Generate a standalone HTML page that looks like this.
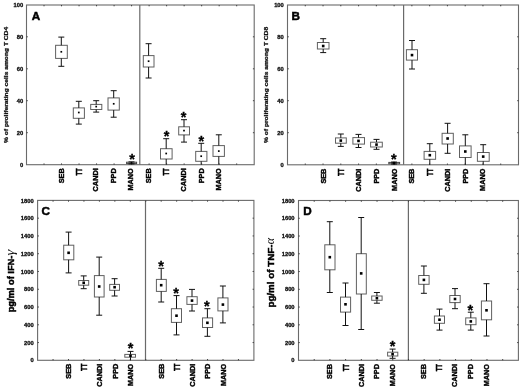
<!DOCTYPE html>
<html lang="en">
<head>
<meta charset="utf-8">
<title>Box plots: proliferating T cells and cytokine production</title>
<style>
html,body{margin:0;padding:0;background:#fff;}
body{width:520px;height:390px;overflow:hidden;font-family:"Liberation Sans",Arial,sans-serif;}
svg{display:block;}
</style>
</head>
<body>
<svg width="520" height="390" viewBox="0 0 520 390" font-family="'Liberation Sans', Arial, sans-serif">
<rect width="520" height="390" fill="#fff"/>
<g id="panel-A">
<rect x="26.5" y="5" width="227.7" height="159.7" fill="none" stroke="#6a6a6a" stroke-width="1.1"/>
<line x1="139.8" y1="5" x2="139.8" y2="164.7" stroke="#6a6a6a" stroke-width="1.2"/>
<path d="M44.02 5v1.3M44.02 164.7v-1.3M61.53 5v1.3M61.53 164.7v-1.3M79.05 5v1.3M79.05 164.7v-1.3M96.56 5v1.3M96.56 164.7v-1.3M114.08 5v1.3M114.08 164.7v-1.3M131.59 5v1.3M131.59 164.7v-1.3M149.11 5v1.3M149.11 164.7v-1.3M166.62 5v1.3M166.62 164.7v-1.3M184.14 5v1.3M184.14 164.7v-1.3M201.65 5v1.3M201.65 164.7v-1.3M219.17 5v1.3M219.17 164.7v-1.3M236.68 5v1.3M236.68 164.7v-1.3M26.5 36.8h1.3M254.2 36.8h-1.3M26.5 68.8h1.3M254.2 68.8h-1.3M26.5 100.7h1.3M254.2 100.7h-1.3M26.5 132.7h1.3M254.2 132.7h-1.3" stroke="#333" stroke-width="0.9" fill="none"/>
<g font-size="5.8" font-weight="bold" fill="#111" text-anchor="end" stroke="#111" stroke-width="0.3">
<text x="23.2" y="7.1">100</text>
<text x="23.2" y="38.9">80</text>
<text x="23.2" y="70.9">60</text>
<text x="23.2" y="102.8">40</text>
<text x="23.2" y="134.8">20</text>
<text x="23.2" y="166.7">0</text>
</g>
<text x="31.7" y="19.9" font-size="11.7" font-weight="bold" fill="#000" stroke="#000" stroke-width="0.5">A</text>
<text transform="translate(7.6 143) rotate(-90) scale(1.39 1)" font-size="4.8" font-weight="bold" fill="#111" stroke="#111" stroke-width="0.25">% of proliferating cells among T CD4</text>
<g font-size="7.3" font-weight="bold" fill="#000" text-anchor="end" stroke="#000" stroke-width="0.4">
<text transform="translate(63.6 168.3) rotate(-90)">SEB</text>
<text transform="translate(81.6 168.3) rotate(-90) scale(0.67 1)" font-size="8.9" stroke="#000" stroke-width="0.5">TT</text>
<text transform="translate(98.3 168.3) rotate(-90)">CANDI</text>
<text transform="translate(116.1 168.3) rotate(-90)">PPD</text>
<text transform="translate(133.4 168.3) rotate(-90)">MANO</text>
<text transform="translate(151.1 168.3) rotate(-90)">SEB</text>
<text transform="translate(168.9 168.3) rotate(-90) scale(0.67 1)" font-size="8.9" stroke="#000" stroke-width="0.5">TT</text>
<text transform="translate(186.2 168.3) rotate(-90)">CANDI</text>
<text transform="translate(203.6 168.3) rotate(-90)">PPD</text>
<text transform="translate(221 168.3) rotate(-90)">MANO</text>
</g>
<rect x="55.6" y="45.3" width="11.7" height="13.1" fill="#fff" stroke="#606060" stroke-width="1"/>
<path d="M61.3 37.1V45.3M61.3 58.4V66.3M58.3 37.1h6M58.3 66.3h6" stroke="#111" stroke-width="1" fill="none"/>
<rect x="60.45" y="50.95" width="1.7" height="1.7" fill="#000"/>
<rect x="73.3" y="107.9" width="11.1" height="10.4" fill="#fff" stroke="#606060" stroke-width="1"/>
<path d="M78.8 101.3V107.9M78.8 118.3V124.1M75.8 101.3h6M75.8 124.1h6" stroke="#111" stroke-width="1" fill="none"/>
<rect x="77.95" y="111.65" width="1.7" height="1.7" fill="#000"/>
<rect x="90.7" y="104.4" width="11.1" height="5.1" fill="#fff" stroke="#606060" stroke-width="1"/>
<path d="M96.2 100.7V104.4M96.2 109.5V112.1M93.2 100.7h6M93.2 112.1h6" stroke="#111" stroke-width="1" fill="none"/>
<rect x="95.35" y="105.75" width="1.7" height="1.7" fill="#000"/>
<rect x="108" y="97.9" width="11.3" height="12.2" fill="#fff" stroke="#606060" stroke-width="1"/>
<path d="M113.7 90.7V97.9M113.7 110.1V117.2M110.7 90.7h6M110.7 117.2h6" stroke="#111" stroke-width="1" fill="none"/>
<rect x="112.85" y="102.95" width="1.7" height="1.7" fill="#000"/>
<rect x="126.6" y="162.2" width="10" height="1.4" fill="#fff" stroke="#444" stroke-width="1"/>
<path d="M131.5 161.9V162.2M131.5 163.6V163.9M128.5 161.9h6M128.5 163.9h6" stroke="#111" stroke-width="1" fill="none"/>
<rect x="130.65" y="162.05" width="1.7" height="1.7" fill="#000"/>
<text x="132.2" y="163.5" font-size="14.5" font-weight="bold" text-anchor="middle" fill="#000" stroke="#000" stroke-width="0.3">*</text>
<rect x="143.3" y="55.6" width="10.7" height="11.4" fill="#fff" stroke="#606060" stroke-width="1"/>
<path d="M148.6 43.7V55.6M148.6 67V78M145.6 43.7h6M145.6 78h6" stroke="#111" stroke-width="1" fill="none"/>
<rect x="147.75" y="60.35" width="1.7" height="1.7" fill="#000"/>
<rect x="160.5" y="148.7" width="11.6" height="10.3" fill="#fff" stroke="#606060" stroke-width="1"/>
<path d="M166.2 138.7V148.7M166.2 159V164.5M163.2 138.7h6" stroke="#111" stroke-width="1" fill="none"/>
<rect x="165.35" y="152.65" width="1.7" height="1.7" fill="#000"/>
<text x="166.6" y="141.3" font-size="14.5" font-weight="bold" text-anchor="middle" fill="#000" stroke="#000" stroke-width="0.3">*</text>
<rect x="178.7" y="126.8" width="10.8" height="8.1" fill="#fff" stroke="#606060" stroke-width="1"/>
<path d="M184 119.7V126.8M184 134.9V142.1M181 119.7h6M181 142.1h6" stroke="#111" stroke-width="1" fill="none"/>
<rect x="183.15" y="129.75" width="1.7" height="1.7" fill="#000"/>
<text x="183.6" y="122.1" font-size="14.5" font-weight="bold" text-anchor="middle" fill="#000" stroke="#000" stroke-width="0.3">*</text>
<rect x="195.7" y="151.4" width="11.2" height="9.9" fill="#fff" stroke="#606060" stroke-width="1"/>
<path d="M201.2 143.3V151.4M201.2 161.3V164.5M198.2 143.3h6" stroke="#111" stroke-width="1" fill="none"/>
<rect x="200.35" y="155.35" width="1.7" height="1.7" fill="#000"/>
<text x="201.4" y="145.5" font-size="14.5" font-weight="bold" text-anchor="middle" fill="#000" stroke="#000" stroke-width="0.3">*</text>
<rect x="213" y="145.6" width="11.4" height="10.8" fill="#fff" stroke="#606060" stroke-width="1"/>
<path d="M218.8 134.8V145.6M218.8 156.4V164.5M215.8 134.8h6" stroke="#111" stroke-width="1" fill="none"/>
<rect x="217.95" y="150.25" width="1.7" height="1.7" fill="#000"/>
</g>
<g id="panel-B">
<rect x="287.5" y="5" width="231" height="159.8" fill="none" stroke="#6a6a6a" stroke-width="1.1"/>
<line x1="403.6" y1="5" x2="403.6" y2="164.8" stroke="#6a6a6a" stroke-width="1.2"/>
<path d="M305.27 5v1.3M305.27 164.8v-1.3M323.04 5v1.3M323.04 164.8v-1.3M340.81 5v1.3M340.81 164.8v-1.3M358.58 5v1.3M358.58 164.8v-1.3M376.35 5v1.3M376.35 164.8v-1.3M394.12 5v1.3M394.12 164.8v-1.3M411.88 5v1.3M411.88 164.8v-1.3M429.65 5v1.3M429.65 164.8v-1.3M447.42 5v1.3M447.42 164.8v-1.3M465.19 5v1.3M465.19 164.8v-1.3M482.96 5v1.3M482.96 164.8v-1.3M500.73 5v1.3M500.73 164.8v-1.3M287.5 36.8h1.3M518.5 36.8h-1.3M287.5 68.8h1.3M518.5 68.8h-1.3M287.5 100.7h1.3M518.5 100.7h-1.3M287.5 132.7h1.3M518.5 132.7h-1.3" stroke="#333" stroke-width="0.9" fill="none"/>
<g font-size="5.8" font-weight="bold" fill="#111" text-anchor="end" stroke="#111" stroke-width="0.3">
<text x="283.8" y="7.1">100</text>
<text x="283.8" y="38.9">80</text>
<text x="283.8" y="70.9">60</text>
<text x="283.8" y="102.8">40</text>
<text x="283.8" y="134.8">20</text>
<text x="283.8" y="166.7">0</text>
</g>
<text x="291.6" y="19.8" font-size="11.7" font-weight="bold" fill="#000" stroke="#000" stroke-width="0.5">B</text>
<text transform="translate(267.5 143) rotate(-90) scale(1.39 1)" font-size="4.8" font-weight="bold" fill="#111" stroke="#111" stroke-width="0.25">% of proliferating cells among T CD8</text>
<g font-size="7.3" font-weight="bold" fill="#000" text-anchor="end" stroke="#000" stroke-width="0.4">
<text transform="translate(325.6 168.6) rotate(-90)">SEB</text>
<text transform="translate(344 168.6) rotate(-90) scale(0.67 1)" font-size="8.9" stroke="#000" stroke-width="0.5">TT</text>
<text transform="translate(361 168.6) rotate(-90)">CANDI</text>
<text transform="translate(378.8 168.6) rotate(-90)">PPD</text>
<text transform="translate(396.6 168.6) rotate(-90)">MANO</text>
<text transform="translate(414.4 168.6) rotate(-90)">SEB</text>
<text transform="translate(432.8 168.6) rotate(-90) scale(0.67 1)" font-size="8.9" stroke="#000" stroke-width="0.5">TT</text>
<text transform="translate(450 168.6) rotate(-90)">CANDI</text>
<text transform="translate(467.8 168.6) rotate(-90)">PPD</text>
<text transform="translate(485.4 168.6) rotate(-90)">MANO</text>
</g>
<rect x="317.4" y="42.5" width="11.6" height="6.5" fill="#fff" stroke="#606060" stroke-width="1"/>
<path d="M323.2 38.7V42.5M323.2 49V52.6M320.2 38.7h6M320.2 52.6h6" stroke="#111" stroke-width="1" fill="none"/>
<rect x="321.9" y="44.7" width="2.6" height="2.6" fill="#000"/>
<rect x="335.5" y="137.9" width="10.8" height="5.3" fill="#fff" stroke="#606060" stroke-width="1"/>
<path d="M340.8 134V137.9M340.8 143.2V146.4M337.8 134h6M337.8 146.4h6" stroke="#111" stroke-width="1" fill="none"/>
<rect x="339.5" y="139.3" width="2.6" height="2.6" fill="#000"/>
<rect x="352.9" y="137.6" width="11.6" height="6.5" fill="#fff" stroke="#606060" stroke-width="1"/>
<path d="M358.5 134.4V137.6M358.5 144.1V147.5M355.5 134.4h6M355.5 147.5h6" stroke="#111" stroke-width="1" fill="none"/>
<rect x="357.2" y="139.6" width="2.6" height="2.6" fill="#000"/>
<rect x="370.6" y="142.2" width="11.7" height="4.8" fill="#fff" stroke="#606060" stroke-width="1"/>
<path d="M376.5 139.4V142.2M376.5 147V149.3M373.5 139.4h6M373.5 149.3h6" stroke="#111" stroke-width="1" fill="none"/>
<rect x="375.2" y="143.3" width="2.6" height="2.6" fill="#000"/>
<rect x="388.8" y="162.4" width="10.8" height="1.4" fill="#fff" stroke="#444" stroke-width="1"/>
<path d="M394 162.1V162.4M394 163.8V164M391 162.1h6M391 164h6" stroke="#111" stroke-width="1" fill="none"/>
<rect x="392.7" y="161.8" width="2.6" height="2.6" fill="#000"/>
<text x="393.8" y="163.9" font-size="14.5" font-weight="bold" text-anchor="middle" fill="#000" stroke="#000" stroke-width="0.3">*</text>
<rect x="406.4" y="49.7" width="11.1" height="10.4" fill="#fff" stroke="#606060" stroke-width="1"/>
<path d="M412 40.5V49.7M412 60.1V69M409 40.5h6M409 69h6" stroke="#111" stroke-width="1" fill="none"/>
<rect x="410.7" y="53.8" width="2.6" height="2.6" fill="#000"/>
<rect x="424.1" y="151.4" width="11.5" height="7.9" fill="#fff" stroke="#606060" stroke-width="1"/>
<path d="M429.8 143.7V151.4M429.8 159.3V164.8M426.8 143.7h6" stroke="#111" stroke-width="1" fill="none"/>
<rect x="428.5" y="153.9" width="2.6" height="2.6" fill="#000"/>
<rect x="442.1" y="133.3" width="11.2" height="10.7" fill="#fff" stroke="#606060" stroke-width="1"/>
<path d="M447.6 123.3V133.3M447.6 144V153.3M444.6 123.3h6M444.6 153.3h6" stroke="#111" stroke-width="1" fill="none"/>
<rect x="446.3" y="137.2" width="2.6" height="2.6" fill="#000"/>
<rect x="459.5" y="145.9" width="11.6" height="11.6" fill="#fff" stroke="#606060" stroke-width="1"/>
<path d="M465.3 134.8V145.9M465.3 157.5V164.8M462.3 134.8h6" stroke="#111" stroke-width="1" fill="none"/>
<rect x="464" y="150.2" width="2.6" height="2.6" fill="#000"/>
<rect x="477.4" y="152.5" width="11.8" height="8.8" fill="#fff" stroke="#606060" stroke-width="1"/>
<path d="M483.2 144.7V152.5M483.2 161.3V164.8M480.2 144.7h6" stroke="#111" stroke-width="1" fill="none"/>
<rect x="481.9" y="155.3" width="2.6" height="2.6" fill="#000"/>
</g>
<g id="panel-C">
<rect x="37.6" y="200.4" width="216.3" height="159.9" fill="none" stroke="#6a6a6a" stroke-width="1.1"/>
<line x1="145.5" y1="200.4" x2="145.5" y2="360.3" stroke="#6a6a6a" stroke-width="1.2"/>
<path d="M53.05 200.4v1.3M53.05 360.3v-1.3M68.5 200.4v1.3M68.5 360.3v-1.3M83.95 200.4v1.3M83.95 360.3v-1.3M99.4 200.4v1.3M99.4 360.3v-1.3M114.85 200.4v1.3M114.85 360.3v-1.3M130.3 200.4v1.3M130.3 360.3v-1.3M145.75 200.4v1.3M145.75 360.3v-1.3M161.2 200.4v1.3M161.2 360.3v-1.3M176.65 200.4v1.3M176.65 360.3v-1.3M192.1 200.4v1.3M192.1 360.3v-1.3M207.55 200.4v1.3M207.55 360.3v-1.3M223 200.4v1.3M223 360.3v-1.3M238.45 200.4v1.3M238.45 360.3v-1.3M37.6 218.17h1.3M253.9 218.17h-1.3M37.6 235.94h1.3M253.9 235.94h-1.3M37.6 253.71h1.3M253.9 253.71h-1.3M37.6 271.48h1.3M253.9 271.48h-1.3M37.6 289.25h1.3M253.9 289.25h-1.3M37.6 307.02h1.3M253.9 307.02h-1.3M37.6 324.79h1.3M253.9 324.79h-1.3M37.6 342.56h1.3M253.9 342.56h-1.3" stroke="#333" stroke-width="0.9" fill="none"/>
<g font-size="5.8" font-weight="bold" fill="#111" text-anchor="end" stroke="#111" stroke-width="0.3">
<text x="33.7" y="202.5">1800</text>
<text x="33.7" y="220.27">1600</text>
<text x="33.7" y="238.04">1400</text>
<text x="33.7" y="255.81">1200</text>
<text x="33.7" y="273.58">1000</text>
<text x="33.7" y="291.35">800</text>
<text x="33.7" y="309.12">600</text>
<text x="33.7" y="326.89">400</text>
<text x="33.7" y="344.66">200</text>
<text x="33.7" y="362.43">0</text>
</g>
<text x="41.5" y="215.1" font-size="11.7" font-weight="bold" fill="#000" stroke="#000" stroke-width="0.5">C</text>
<text transform="translate(13.8 312.3) rotate(-90) scale(1.055 1)" font-size="8.8" font-weight="bold" fill="#000" stroke="#000" stroke-width="0.45">pg/ml of IFN-</text>
<text transform="translate(13.8 255.38) rotate(-90) scale(1.2 1)" font-family="'Liberation Serif', 'DejaVu Serif', serif" font-style="italic" font-size="12.3" fill="#111">γ</text>
<g font-size="7.3" font-weight="bold" fill="#000" text-anchor="end" stroke="#000" stroke-width="0.4">
<text transform="translate(71 363.7) rotate(-90)">SEB</text>
<text transform="translate(87 363.7) rotate(-90) scale(0.67 1)" font-size="8.9" stroke="#000" stroke-width="0.5">TT</text>
<text transform="translate(102 363.7) rotate(-90)">CANDI</text>
<text transform="translate(117.5 363.7) rotate(-90)">PPD</text>
<text transform="translate(133 363.7) rotate(-90)">MANO</text>
<text transform="translate(163.8 363.7) rotate(-90)">SEB</text>
<text transform="translate(179.8 363.7) rotate(-90) scale(0.67 1)" font-size="8.9" stroke="#000" stroke-width="0.5">TT</text>
<text transform="translate(194.7 363.7) rotate(-90)">CANDI</text>
<text transform="translate(210.1 363.7) rotate(-90)">PPD</text>
<text transform="translate(225.6 363.7) rotate(-90)">MANO</text>
</g>
<rect x="63.7" y="245.2" width="10.1" height="14.6" fill="#fff" stroke="#606060" stroke-width="1"/>
<path d="M68.6 232.1V245.2M68.6 259.8V272.9M65.6 232.1h6M65.6 272.9h6" stroke="#111" stroke-width="1" fill="none"/>
<rect x="67.3" y="251.5" width="2.6" height="2.6" fill="#000"/>
<rect x="78.7" y="280.5" width="10" height="4.7" fill="#fff" stroke="#606060" stroke-width="1"/>
<path d="M83.7 275.9V280.5M83.7 285.2V288.7M80.7 275.9h6M80.7 288.7h6" stroke="#111" stroke-width="1" fill="none"/>
<rect x="82.4" y="281.5" width="2.6" height="2.6" fill="#000"/>
<rect x="94.4" y="275.6" width="9.7" height="21.4" fill="#fff" stroke="#606060" stroke-width="1"/>
<path d="M99.2 257.1V275.6M99.2 297V315.2M96.2 257.1h6M96.2 315.2h6" stroke="#111" stroke-width="1" fill="none"/>
<rect x="97.9" y="285.2" width="2.6" height="2.6" fill="#000"/>
<rect x="109.7" y="284.4" width="9.8" height="5.9" fill="#fff" stroke="#606060" stroke-width="1"/>
<path d="M114.6 278.7V284.4M114.6 290.3V296M111.6 278.7h6M111.6 296h6" stroke="#111" stroke-width="1" fill="none"/>
<rect x="113.3" y="285.9" width="2.6" height="2.6" fill="#000"/>
<rect x="124.8" y="354.4" width="10.7" height="2.8" fill="#fff" stroke="#606060" stroke-width="1"/>
<path d="M130.5 351.4V354.4M130.5 357.2V360.3M127.5 351.4h6" stroke="#111" stroke-width="1" fill="none"/>
<rect x="129.2" y="354.5" width="2.6" height="2.6" fill="#000"/>
<text x="130.5" y="353.2" font-size="14.5" font-weight="bold" text-anchor="middle" fill="#000" stroke="#000" stroke-width="0.3">*</text>
<rect x="156.4" y="279.4" width="9.9" height="12" fill="#fff" stroke="#606060" stroke-width="1"/>
<path d="M161.2 268.3V279.4M161.2 291.4V302M158.2 268.3h6M158.2 302h6" stroke="#111" stroke-width="1" fill="none"/>
<rect x="159.9" y="283.9" width="2.6" height="2.6" fill="#000"/>
<text x="161.2" y="270.5" font-size="14.5" font-weight="bold" text-anchor="middle" fill="#000" stroke="#000" stroke-width="0.3">*</text>
<rect x="171.4" y="308.7" width="10.1" height="13.7" fill="#fff" stroke="#606060" stroke-width="1"/>
<path d="M176.5 295.6V308.7M176.5 322.4V334.9M173.5 295.6h6M173.5 334.9h6" stroke="#111" stroke-width="1" fill="none"/>
<rect x="175.2" y="314.4" width="2.6" height="2.6" fill="#000"/>
<text x="176.2" y="298.2" font-size="14.5" font-weight="bold" text-anchor="middle" fill="#000" stroke="#000" stroke-width="0.3">*</text>
<rect x="186.9" y="296.7" width="10.3" height="7.7" fill="#fff" stroke="#606060" stroke-width="1"/>
<path d="M192 289.4V296.7M192 304.4V311M189 289.4h6M189 311h6" stroke="#111" stroke-width="1" fill="none"/>
<rect x="190.7" y="299.3" width="2.6" height="2.6" fill="#000"/>
<rect x="202.5" y="317.9" width="10.1" height="9.6" fill="#fff" stroke="#606060" stroke-width="1"/>
<path d="M207.4 308.7V317.9M207.4 327.5V336.3M204.4 308.7h6M204.4 336.3h6" stroke="#111" stroke-width="1" fill="none"/>
<rect x="206.1" y="321.5" width="2.6" height="2.6" fill="#000"/>
<text x="206.9" y="310.5" font-size="14.5" font-weight="bold" text-anchor="middle" fill="#000" stroke="#000" stroke-width="0.3">*</text>
<rect x="217.9" y="297.9" width="10.1" height="13" fill="#fff" stroke="#606060" stroke-width="1"/>
<path d="M222.9 286V297.9M222.9 310.9V322.9M219.9 286h6M219.9 322.9h6" stroke="#111" stroke-width="1" fill="none"/>
<rect x="221.6" y="303.3" width="2.6" height="2.6" fill="#000"/>
</g>
<g id="panel-D">
<rect x="298.5" y="200.5" width="219.9" height="159.8" fill="none" stroke="#6a6a6a" stroke-width="1.1"/>
<line x1="408.4" y1="200.5" x2="408.4" y2="360.3" stroke="#6a6a6a" stroke-width="1.2"/>
<path d="M314.21 200.5v1.3M314.21 360.3v-1.3M329.91 200.5v1.3M329.91 360.3v-1.3M345.62 200.5v1.3M345.62 360.3v-1.3M361.33 200.5v1.3M361.33 360.3v-1.3M377.04 200.5v1.3M377.04 360.3v-1.3M392.74 200.5v1.3M392.74 360.3v-1.3M408.45 200.5v1.3M408.45 360.3v-1.3M424.16 200.5v1.3M424.16 360.3v-1.3M439.86 200.5v1.3M439.86 360.3v-1.3M455.57 200.5v1.3M455.57 360.3v-1.3M471.28 200.5v1.3M471.28 360.3v-1.3M486.99 200.5v1.3M486.99 360.3v-1.3M502.69 200.5v1.3M502.69 360.3v-1.3M298.5 218.26h1.3M518.4 218.26h-1.3M298.5 236.02h1.3M518.4 236.02h-1.3M298.5 253.78h1.3M518.4 253.78h-1.3M298.5 271.54h1.3M518.4 271.54h-1.3M298.5 289.3h1.3M518.4 289.3h-1.3M298.5 307.06h1.3M518.4 307.06h-1.3M298.5 324.82h1.3M518.4 324.82h-1.3M298.5 342.58h1.3M518.4 342.58h-1.3" stroke="#333" stroke-width="0.9" fill="none"/>
<g font-size="5.8" font-weight="bold" fill="#111" text-anchor="end" stroke="#111" stroke-width="0.3">
<text x="294.6" y="202.6">1800</text>
<text x="294.6" y="220.36">1600</text>
<text x="294.6" y="238.12">1400</text>
<text x="294.6" y="255.88">1200</text>
<text x="294.6" y="273.64">1000</text>
<text x="294.6" y="291.4">800</text>
<text x="294.6" y="309.16">600</text>
<text x="294.6" y="326.92">400</text>
<text x="294.6" y="344.68">200</text>
<text x="294.6" y="362.44">0</text>
</g>
<text x="303.2" y="215.1" font-size="11.7" font-weight="bold" fill="#000" stroke="#000" stroke-width="0.5">D</text>
<text transform="translate(273.7 307.6) rotate(-90) scale(1.115 1)" font-size="8.8" font-weight="bold" fill="#000" stroke="#000" stroke-width="0.45">pg/ml of TNF-</text>
<text transform="translate(273.7 244.19) rotate(-90)" font-family="'Liberation Serif', 'DejaVu Serif', serif" font-style="italic" font-size="12" fill="#111">α</text>
<g font-size="7.3" font-weight="bold" fill="#000" text-anchor="end" stroke="#000" stroke-width="0.4">
<text transform="translate(332.3 364) rotate(-90)">SEB</text>
<text transform="translate(348.6 364) rotate(-90) scale(0.67 1)" font-size="8.9" stroke="#000" stroke-width="0.5">TT</text>
<text transform="translate(363.8 364) rotate(-90)">CANDI</text>
<text transform="translate(379.4 364) rotate(-90)">PPD</text>
<text transform="translate(395 364) rotate(-90)">MANO</text>
<text transform="translate(425.9 364) rotate(-90)">SEB</text>
<text transform="translate(442.2 364) rotate(-90) scale(0.67 1)" font-size="8.9" stroke="#000" stroke-width="0.5">TT</text>
<text transform="translate(457.2 364) rotate(-90)">CANDI</text>
<text transform="translate(472.9 364) rotate(-90)">PPD</text>
<text transform="translate(488.8 364) rotate(-90)">MANO</text>
</g>
<rect x="324.8" y="244.8" width="10.2" height="25" fill="#fff" stroke="#606060" stroke-width="1"/>
<path d="M329.8 221.7V244.8M329.8 269.8V292.5M326.8 221.7h6M326.8 292.5h6" stroke="#111" stroke-width="1" fill="none"/>
<rect x="328.5" y="255.9" width="2.6" height="2.6" fill="#000"/>
<rect x="340.5" y="297.1" width="10.1" height="15" fill="#fff" stroke="#606060" stroke-width="1"/>
<path d="M345.5 283V297.1M345.5 312.1V325.5M342.5 283h6M342.5 325.5h6" stroke="#111" stroke-width="1" fill="none"/>
<rect x="344.2" y="303" width="2.6" height="2.6" fill="#000"/>
<rect x="356.4" y="253.7" width="9.9" height="40.3" fill="#fff" stroke="#606060" stroke-width="1"/>
<path d="M361.2 217.5V253.7M361.2 294V329.5M358.2 217.5h6M358.2 329.5h6" stroke="#111" stroke-width="1" fill="none"/>
<rect x="359.9" y="272.1" width="2.6" height="2.6" fill="#000"/>
<rect x="371.7" y="296" width="10.4" height="4.3" fill="#fff" stroke="#606060" stroke-width="1"/>
<path d="M376.9 292.5V296M376.9 300.3V303.2M373.9 292.5h6M373.9 303.2h6" stroke="#111" stroke-width="1" fill="none"/>
<rect x="375.6" y="296.9" width="2.6" height="2.6" fill="#000"/>
<rect x="387.6" y="352.2" width="10.2" height="3.8" fill="#fff" stroke="#606060" stroke-width="1"/>
<path d="M392.6 349.1V352.2M392.6 356V358.3M389.6 349.1h6M389.6 358.3h6" stroke="#111" stroke-width="1" fill="none"/>
<rect x="391.3" y="352.9" width="2.6" height="2.6" fill="#000"/>
<text x="392.6" y="351.3" font-size="14.5" font-weight="bold" text-anchor="middle" fill="#000" stroke="#000" stroke-width="0.3">*</text>
<rect x="418.7" y="275.5" width="10.4" height="8.8" fill="#fff" stroke="#606060" stroke-width="1"/>
<path d="M423.9 266V275.5M423.9 284.3V293.3M420.9 266h6M420.9 293.3h6" stroke="#111" stroke-width="1" fill="none"/>
<rect x="422.6" y="278.6" width="2.6" height="2.6" fill="#000"/>
<rect x="434.4" y="316" width="10.1" height="7.3" fill="#fff" stroke="#606060" stroke-width="1"/>
<path d="M439.5 309.1V316M439.5 323.3V330.1M436.5 309.1h6M436.5 330.1h6" stroke="#111" stroke-width="1" fill="none"/>
<rect x="438.2" y="318.4" width="2.6" height="2.6" fill="#000"/>
<rect x="449.8" y="295.5" width="10.4" height="7.1" fill="#fff" stroke="#606060" stroke-width="1"/>
<path d="M455 288.6V295.5M455 302.6V308.7M452 288.6h6M452 308.7h6" stroke="#111" stroke-width="1" fill="none"/>
<rect x="453.7" y="297.7" width="2.6" height="2.6" fill="#000"/>
<rect x="465.7" y="317.9" width="10.3" height="6.8" fill="#fff" stroke="#606060" stroke-width="1"/>
<path d="M470.8 312.2V317.9M470.8 324.7V330.1M467.8 312.2h6M467.8 330.1h6" stroke="#111" stroke-width="1" fill="none"/>
<rect x="469.5" y="320.1" width="2.6" height="2.6" fill="#000"/>
<text x="470.4" y="314.7" font-size="14.5" font-weight="bold" text-anchor="middle" fill="#000" stroke="#000" stroke-width="0.3">*</text>
<rect x="481.4" y="301" width="10.2" height="18.8" fill="#fff" stroke="#606060" stroke-width="1"/>
<path d="M486.5 283.7V301M486.5 319.8V336M483.5 283.7h6M483.5 336h6" stroke="#111" stroke-width="1" fill="none"/>
<rect x="485.2" y="309" width="2.6" height="2.6" fill="#000"/>
</g>
</svg>
</body>
</html>
